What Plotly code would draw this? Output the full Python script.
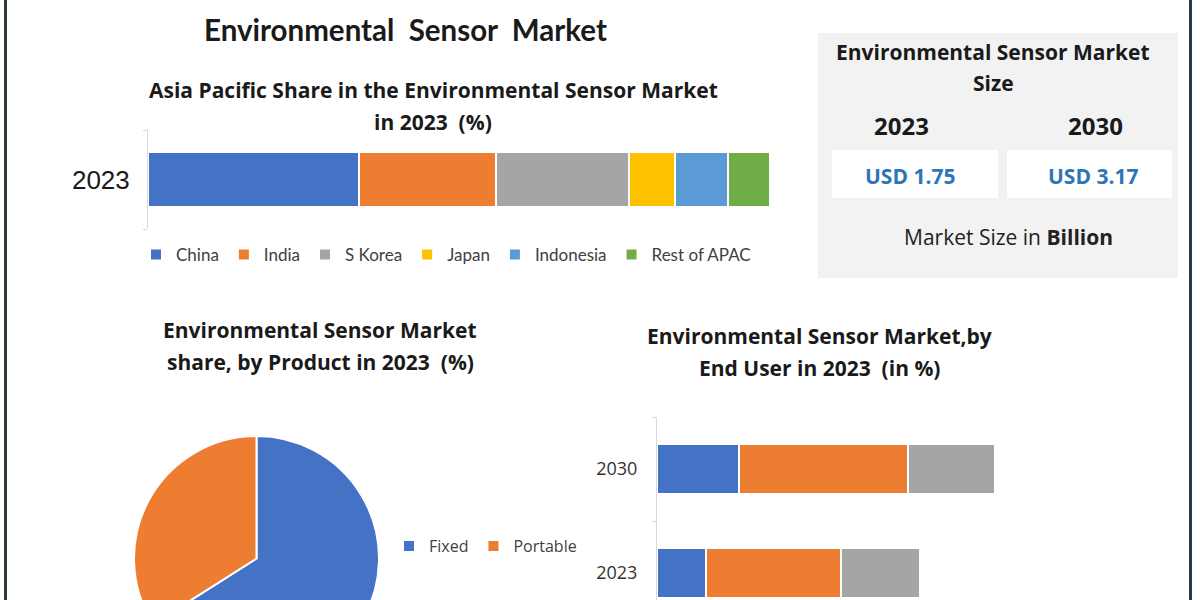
import plotly.graph_objects as go

# ---------------- data ----------------
apac_countries = ["China", "India", "S Korea", "Japan", "Indonesia", "Rest of APAC"]
apac_share_2023 = [33.9, 22.1, 21.4, 7.3, 8.5, 6.8]
apac_year = ["2023"]

product_labels = ["Fixed", "Portable"]
product_share_2023 = [66, 34]

enduser_years = ["2023", "2030"]
enduser_segments = ["Industrial", "Commercial", "Residential"]
enduser_values = {
    "Industrial": [4.85, 8.2],
    "Commercial": [13.5, 16.9],
    "Residential": [7.95, 8.7],
}

market_years = ["2023", "2030"]
market_size_usd_bn = [1.75, 3.17]

# ---------------- style ----------------
W, H = 1200, 700
apac_colors = ["#4472c4", "#ed7d31", "#a5a5a5", "#ffc000", "#5b9bd5", "#70ad47"]
product_colors = ["#4472c4", "#ed7d31"]
enduser_colors = ["#4472c4", "#ed7d31", "#a5a5a5"]


def px(x):
    return x / W


def py(y):
    return 1 - y / H


fig = go.Figure()

# top stacked bar: APAC share
for name, val, col in zip(apac_countries, apac_share_2023, apac_colors):
    fig.add_trace(go.Bar(
        y=apac_year, x=[val], name=name, orientation="h", width=0.55,
        marker=dict(color=col, line=dict(color="white", width=2)),
        xaxis="x", yaxis="y", legend="legend",
    ))

# pie: product share
fig.add_trace(go.Pie(
    labels=product_labels, values=product_share_2023,
    marker=dict(colors=product_colors, line=dict(color="white", width=2)),
    textinfo="none", sort=False, direction="clockwise", rotation=0,
    domain=dict(x=[px(134), px(379)], y=[py(681), py(436)]),
    legend="legend2", hoverinfo="label+percent",
))

# end user stacked bar
for seg, col in zip(enduser_segments, enduser_colors):
    fig.add_trace(go.Bar(
        y=enduser_years, x=enduser_values[seg], name=seg, orientation="h", width=0.48,
        marker=dict(color=col, line=dict(color="white", width=2)),
        xaxis="x2", yaxis="y2", showlegend=False,
    ))

ann = []


def text(x, y, s, size, family="Open Sans", color="#1a1a1a"):
    ann.append(dict(x=px(x), y=py(y), xref="paper", yref="paper", text=s,
                    showarrow=False, xanchor="center", yanchor="middle",
                    font=dict(family=family, size=size, color=color)))


# titles
text(405, 30, "<b>Environmental  Sensor  Market</b>", 29.5, "Lato")
text(433, 90, "<b>Asia Pacific Share in the Environmental Sensor Market</b>", 21)
text(433, 122, "<b>in 2023  (%)</b>", 21)
text(320, 330, "<b>Environmental Sensor Market</b>", 21)
text(320, 362, "<b>share, by Product in 2023  (%)</b>", 21)
text(819, 336, "<b>Environmental Sensor Market,by</b>", 21)
text(819, 368, "<b>End User in 2023  (in %)</b>", 21)

# market size panel
text(993, 52, "<b>Environmental Sensor Market</b>", 21)
text(993, 83, "<b>Size</b>", 21)
text(901, 126, "<b>%s</b>" % market_years[0], 24)
text(1095, 126, "<b>%s</b>" % market_years[1], 24)
text(910, 176, "<b>USD %.2f</b>" % market_size_usd_bn[0], 21, color="#2e75b6")
text(1093, 176, "<b>USD %.2f</b>" % market_size_usd_bn[1], 21, color="#2e75b6")
text(1008, 237, "Market Size in <b>Billion</b>", 21, color="#222222")

shapes = [
    dict(type="rect", xref="paper", yref="paper", x0=px(818), x1=px(1178),
         y0=py(278), y1=py(33), fillcolor="#f2f2f2", line=dict(width=0), layer="below"),
    dict(type="rect", xref="paper", yref="paper", x0=px(832), x1=px(998),
         y0=py(198), y1=py(150), fillcolor="white", line=dict(width=0), layer="below"),
    dict(type="rect", xref="paper", yref="paper", x0=px(1007), x1=px(1172),
         y0=py(198), y1=py(150), fillcolor="white", line=dict(width=0), layer="below"),
    dict(type="line", xref="paper", yref="paper", x0=px(5.5), x1=px(5.5),
         y0=0, y1=1, line=dict(color="#2b3a44", width=3)),
    dict(type="line", xref="paper", yref="paper", x0=px(1190.5), x1=px(1190.5),
         y0=0, y1=1, line=dict(color="#2b3a44", width=3)),
]

fig.update_layout(
    width=W, height=H, autosize=False,
    margin=dict(l=0, r=0, t=0, b=0),
    paper_bgcolor="white", plot_bgcolor="white",
    barmode="stack",
    xaxis=dict(domain=[px(148), px(770)], range=[0, 100], visible=False, fixedrange=True),
    yaxis=dict(domain=[py(229), py(130)], type="category", showline=True,
               linecolor="#d9d9d9", linewidth=1, ticks="outside", ticklen=4,
               tickcolor="#d9d9d9", tickson="boundaries", ticklabelstandoff=12,
               tickfont=dict(family="Liberation Sans", size=26, color="#1a1a1a"),
               showgrid=False, zeroline=False, fixedrange=True),
    xaxis2=dict(domain=[px(657), px(1100)], range=[0, 44.3], visible=False,
                anchor="y2", fixedrange=True),
    yaxis2=dict(domain=[py(625), py(417)], type="category", anchor="x2",
                categoryorder="array", categoryarray=enduser_years,
                showline=True, linecolor="#d9d9d9", linewidth=1, ticks="outside",
                ticklen=4, tickcolor="#d9d9d9", tickson="boundaries",
                ticklabelstandoff=15,
                tickfont=dict(family="Open Sans", size=18, color="#333333"),
                showgrid=False, zeroline=False, fixedrange=True),
    legend=dict(orientation="h", x=px(136), y=py(255), xanchor="left", yanchor="middle",
                font=dict(family="Lato", size=17, color="#404040"),
                bgcolor="rgba(0,0,0,0)", traceorder="normal", itemwidth=30),
    legend2=dict(orientation="h", x=px(389), y=py(546), xanchor="left", yanchor="middle",
                 font=dict(family="Open Sans", size=16, color="#404040"),
                 bgcolor="rgba(0,0,0,0)", traceorder="normal", itemwidth=30),
    annotations=ann,
    shapes=shapes,
)

fig.write_html(
    "out.html",
    config={"displayModeBar": False},
    post_script="document.body.style.margin='0';document.body.style.overflow='hidden';",
)
